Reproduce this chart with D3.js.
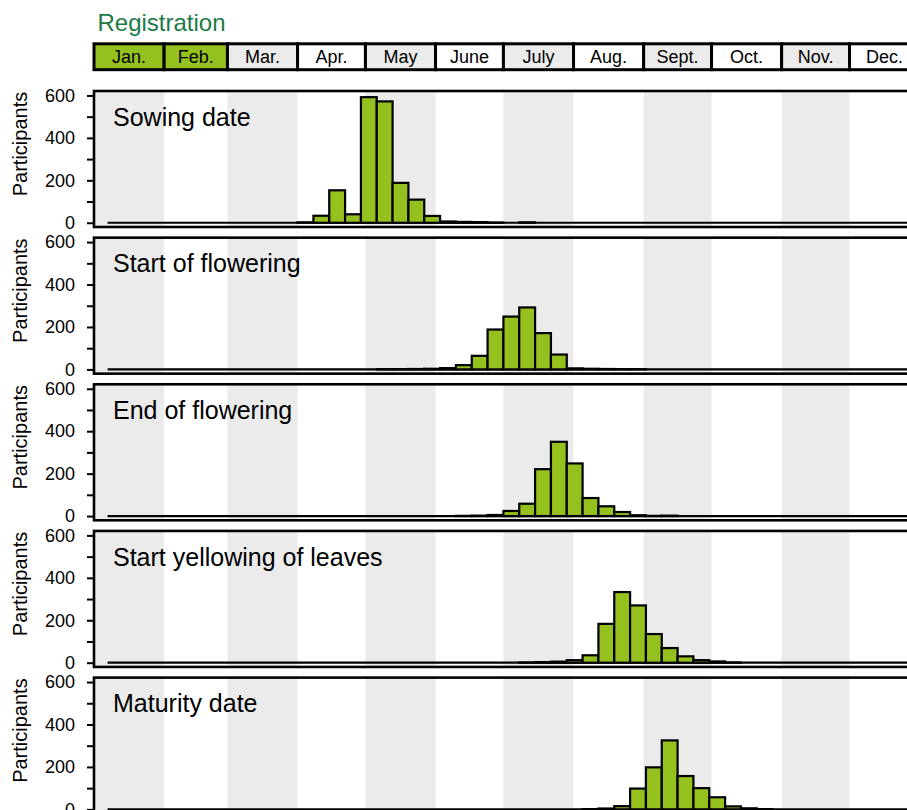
<!DOCTYPE html>
<html><head><meta charset="utf-8">
<script src="https://cdn.jsdelivr.net/npm/d3@7"></script>
<style>body{margin:0;background:#fff}svg{display:block}</style>
</head><body><svg id="c" width="907" height="810"></svg>
<script>
// ---------- data ----------
const months = ["Jan.","Feb.","Mar.","Apr.","May","June","July","Aug.","Sept.","Oct.","Nov.","Dec."];
const registrationMonths = ["Jan.","Feb."];
const panelTitles = ["Sowing date","Start of flowering","End of flowering","Start yellowing of leaves","Maturity date"];
const firstBin = "2019-01-07";   // weekly bins start
const binDays = 7;
const sowing     = [0,0,0,0,0,0,0,0,0,0, 0,0,2,33,153,40,592,572,188,109, 32,6,4,3,1,0,2,0,0,0, 0,0,0,0,0,0,0,0,0,0, 0,0,0,0,0,0,0,0,0,0, 0,0];
const flowerStart= [0,0,0,0,0,0,0,0,0,0, 0,0,0,0,0,0,0,1,1,2, 3,6,20,64,188,249,292,171,70,5, 3,2,1,1,0,0,0,0,0,0, 0,0,0,0,0,0,0,0,0,0, 0,0];
const flowerEnd  = [0,0,0,0,0,0,0,0,0,0, 0,0,0,0,0,0,0,0,0,0, 0,0,1,2,5,24,58,221,350,248, 85,46,19,4,1,2,0,0,0,0, 0,0,0,0,0,0,0,0,0,0, 0,0];
const yellowing  = [0,0,0,0,0,0,0,0,0,0, 0,0,0,0,0,0,0,0,0,0, 0,0,0,0,0,0,1,3,5,12, 35,183,333,270,135,69,30,12,6,1, 0,0,0,0,0,0,0,0,0,0, 0,0];
const maturity   = [0,0,0,0,0,0,0,0,0,0, 0,0,0,0,0,0,0,0,0,0, 0,0,0,0,0,0,0,0,0,0, 1,4,15,98,198,325,157,100,57,14, 5,1,0,0,0,0,0,0,0,0, 0,0];
const series = [sowing, flowerStart, flowerEnd, yellowing, maturity];
const yTicks = [0,100,200,300,400,500,600];
const yTickLabels = [0,200,400,600];

// ---------- layout ----------
const FONT = "'Liberation Sans', Arial, Helvetica, sans-serif";
const GREEN = "#95c11f", GRAY = "#ebebeb";
const svg = d3.select("#c");
const year0 = new Date(2019,0,1), year1 = new Date(2020,0,1);
const x = d3.scaleTime().domain([year0, year1]).range([94, 94 + 365*2.262]);
const monthStarts = d3.timeMonth.range(year0, year1);
const panelTop0 = 91, panelPitch = 146.65, panelH = 136;

// Registration title
svg.append("text").attr("x", 97.5).attr("y", 30.7)
  .attr("font-family", FONT).attr("font-size", 24).attr("fill", "#1b7a45")
  .text("Registration");

// header month boxes
const hdr = svg.append("g");
monthStarts.forEach((m, i) => {
  const x0 = x(m), x1 = x(d3.timeMonth.offset(m, 1));
  const reg = registrationMonths.includes(months[i]);
  hdr.append("rect").attr("x", x0).attr("y", 43.8).attr("width", x1 - x0).attr("height", 25.9)
    .attr("fill", reg ? GREEN : (i % 2 === 0 ? GRAY : "#fff"))
    .attr("stroke", "#000").attr("stroke-width", 3);
  hdr.append("text").attr("x", (x0 + x1) / 2).attr("y", 63.3).attr("text-anchor", "middle")
    .attr("font-family", FONT).attr("font-size", 18).attr("fill", "#000").text(months[i]);
});

// panels
series.forEach((vals, p) => {
  const T = panelTop0 + p * panelPitch;
  const g = svg.append("g");
  const y = d3.scaleLinear().domain([-20, 621]).range([T + panelH, T]);
  // stripes
  monthStarts.forEach((m, i) => {
    if (i % 2 === 0) {
      const x0 = x(m), x1 = x(d3.timeMonth.offset(m, 1));
      g.append("rect").attr("x", x0).attr("y", T).attr("width", x1 - x0).attr("height", panelH).attr("fill", GRAY);
    }
  });
  // bins
  const start = d3.timeParse("%Y-%m-%d")(firstBin);
  const bins = vals.map((v, i) => ({
    x0: d3.timeDay.offset(start, binDays * i),
    x1: d3.timeDay.offset(start, binDays * (i + 1)),
    v
  }));
  g.append("line").attr("x1", x(bins[0].x0)).attr("x2", x(bins[bins.length - 1].x1))
    .attr("y1", y(0)).attr("y2", y(0)).attr("stroke", "#000").attr("stroke-width", 2.2);
  g.selectAll("rect.bar").data(bins.filter(b => b.v > 0)).join("rect").attr("class", "bar")
    .attr("x", b => x(b.x0)).attr("width", b => x(b.x1) - x(b.x0))
    .attr("y", b => y(b.v)).attr("height", b => y(0) - y(b.v))
    .attr("fill", GREEN).attr("stroke", "#000").attr("stroke-width", 2.2);
  // frame
  g.append("rect").attr("x", 94).attr("y", T).attr("width", 860).attr("height", panelH)
    .attr("fill", "none").attr("stroke", "#000").attr("stroke-width", 2.6);
  // y axis
  const ax = g.append("g").attr("transform", "translate(94,0)")
    .call(d3.axisLeft(y).tickValues(yTicks).tickSize(7).tickPadding(12)
      .tickFormat(d => yTickLabels.includes(d) ? d : ""));
  ax.select(".domain").remove();
  ax.selectAll(".tick line").attr("stroke", "#000").attr("stroke-width", 2);
  ax.selectAll(".tick text").attr("font-family", FONT).attr("font-size", 18).attr("fill", "#000");
  // y label
  g.append("text").attr("transform", `translate(27,${T + 53}) rotate(-90)`)
    .attr("text-anchor", "middle").attr("font-family", FONT).attr("font-size", 20).attr("fill", "#000")
    .text("Participants");
  // title
  g.append("text").attr("x", 113).attr("y", T + 34.7).attr("font-family", FONT)
    .attr("font-size", 25).attr("fill", "#000").text(panelTitles[p]);
});
</script></body></html>
